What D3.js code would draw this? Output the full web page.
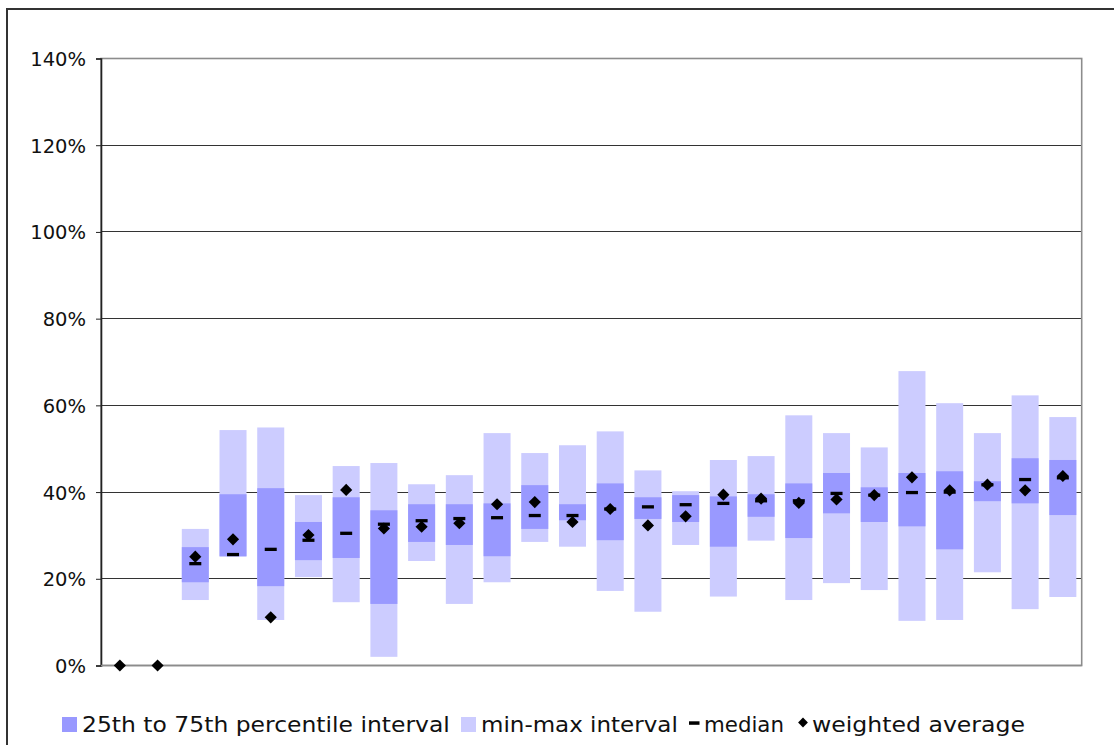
<!DOCTYPE html>
<html>
<head>
<meta charset="utf-8">
<script src="https://cdn.jsdelivr.net/npm/d3@7"></script>
<style>
html,body{margin:0;padding:0;background:#fff;}
svg{display:block;}
</style>
</head>
<body>
<svg id="chart" width="1114" height="745"></svg>
<script>
// ---- data (percent) ----
const categories = ["1","2","3","4","5","6","7","8","9","10","11","12","13","14","15","16","17","18","19","20","21","22","23","24","25","26"];
const minValues  = [null,null,15.1,25.1,10.5,20.4,14.6, 2.0,24.1,14.2,19.2,28.5,27.4,17.2,12.4,27.8,15.9,28.8,15.1,19.0,17.4,10.3,10.5,21.5,13.0,15.8];
const maxValues  = [null,null,31.5,54.3,54.9,39.3,46.0,46.7,41.8,43.9,53.6,49.0,50.8,54.0,45.0,40.2,47.4,48.3,57.7,53.6,50.3,67.9,60.5,53.6,62.3,57.3];
const p25Values  = [null,null,19.2,25.2,18.3,24.3,24.8,14.2,28.5,27.8,25.2,31.5,33.5,28.9,33.8,33.1,27.4,34.3,29.4,35.1,33.1,32.1,26.8,37.9,37.4,34.7];
const p75Values  = [null,null,27.3,39.5,40.9,33.1,38.8,35.8,37.2,37.2,37.4,41.6,37.2,42.0,38.8,39.3,39.0,39.5,42.0,44.4,41.1,44.4,44.8,42.5,47.8,47.4];
const medianValues = [null,null,23.5,25.6,26.8,28.9,30.5,32.6,33.4,33.9,34.1,34.6,34.6,36.1,36.6,37.1,37.4,38.0,38.0,39.7,39.3,39.9,40.0,41.7,42.9,43.3];
const weightedAvg  = [0,0,25.1,29.1,11.1,30.1,40.5,31.6,32.0,32.8,37.2,37.7,33.1,36.1,32.3,34.4,39.4,38.5,37.5,38.3,39.3,43.4,40.4,41.7,40.4,43.7];
const yTicks = [0,20,40,60,80,100,120,140];
const legendLabels = ["25th to 75th percentile interval","min-max interval","median","weighted average"];

const svg = d3.select("#chart");
const plotLeft = 101, plotRight = 1081.7, plotTop = 58.5, plotBottom = 665.5;
const colIQR = "#9999FF", colMinMax = "#CCCCFF";

// outer frame
svg.append("rect").attr("x",7).attr("y",9).attr("width",1130).attr("height",760)
  .attr("fill","none").attr("stroke","#333").attr("stroke-width",2);

const x = d3.scaleBand().domain(categories).range([plotLeft,plotRight]).paddingInner(0.284).paddingOuter(0.142);
const y = d3.scaleLinear().domain([0,140]).range([plotBottom,plotTop]);

// gridlines
svg.append("g").selectAll("line").data(yTicks.filter(t=>t>0 && t<140)).join("line")
  .attr("x1",plotLeft).attr("x2",plotRight).attr("y1",d=>y(d)).attr("y2",d=>y(d))
  .attr("stroke","#333").attr("stroke-width",1).attr("shape-rendering","crispEdges");

// plot border (gray)
svg.append("rect").attr("x",plotLeft).attr("y",y(140)).attr("width",plotRight-plotLeft).attr("height",y(0)-y(140))
  .attr("fill","none").attr("stroke","#8c8c8c").attr("stroke-width",1.6);

const rows = categories.map((c,i)=>({c,min:minValues[i],max:maxValues[i],p25:p25Values[i],p75:p75Values[i],med:medianValues[i],avg:weightedAvg[i]}));
const boxes = rows.filter(d=>d.min!==null);

// min-max bars
svg.append("g").selectAll("rect").data(boxes).join("rect")
  .attr("x",d=>x(d.c)).attr("width",x.bandwidth())
  .attr("y",d=>y(d.max)).attr("height",d=>y(d.min)-y(d.max))
  .attr("fill",colMinMax);
// IQR bars
svg.append("g").selectAll("rect").data(boxes).join("rect")
  .attr("x",d=>x(d.c)).attr("width",x.bandwidth())
  .attr("y",d=>y(d.p75)).attr("height",d=>y(d.p25)-y(d.p75))
  .attr("fill",colIQR);

// y axis
const yAxis = d3.axisLeft(y).tickValues(yTicks).tickSize(5).tickFormat(d=>d+"%");
const ga = svg.append("g").attr("transform",`translate(${plotLeft},0)`).call(yAxis);
ga.select(".domain").attr("stroke","#222").attr("stroke-width",1.6);
ga.selectAll(".tick line").attr("stroke","#222");
ga.selectAll(".tick text").attr("font-family","'DejaVu Sans', Verdana, sans-serif")
  .attr("font-size",19.5).attr("fill","#111").attr("x",-15).attr("dy","0.36em");

// bottom axis line
svg.append("line").attr("x1",plotLeft).attr("x2",plotRight).attr("y1",plotBottom).attr("y2",plotBottom)
  .attr("stroke","#8c8c8c").attr("stroke-width",1.6);

// medians
svg.append("g").selectAll("rect").data(boxes).join("rect")
  .attr("x",d=>x(d.c)+x.bandwidth()/2-6).attr("width",12)
  .attr("y",d=>y(d.med)-1.6).attr("height",3.3).attr("fill","#000");

// weighted averages (diamonds)
svg.append("g").selectAll("path").data(rows).join("path")
  .attr("transform",d=>`translate(${x(d.c)+x.bandwidth()/2},${y(d.avg)}) rotate(45)`)
  .attr("d",d3.symbol().type(d3.symbolSquare).size(74))
  .attr("fill","#000");

// legend
const lg = svg.append("g").attr("font-family","'DejaVu Sans', Verdana, sans-serif").attr("font-size",22).attr("fill","#111");
const baseY = 731.5;
function fitText(label, x0, target){
  const t = lg.append("text").attr("x",0).attr("y",0).text(label);
  const w = t.node().getComputedTextLength();
  t.attr("transform",`translate(${x0},${baseY}) scale(${target/w},1)`);
}
lg.append("rect").attr("x",62).attr("y",717).attr("width",15).attr("height",15).attr("fill",colIQR);
fitText(legendLabels[0],82,368);
lg.append("rect").attr("x",461).attr("y",717).attr("width",15).attr("height",15).attr("fill",colMinMax);
fitText(legendLabels[1],481,197);
lg.append("rect").attr("x",689).attr("y",721.3).attr("width",10.5).attr("height",3.5).attr("fill","#000");
fitText(legendLabels[2],704,80);
lg.append("path").attr("transform","translate(803,722.5) rotate(45)").attr("d",d3.symbol().type(d3.symbolSquare).size(48)).attr("fill","#000");
fitText(legendLabels[3],812,213);
</script>
</body>
</html>
